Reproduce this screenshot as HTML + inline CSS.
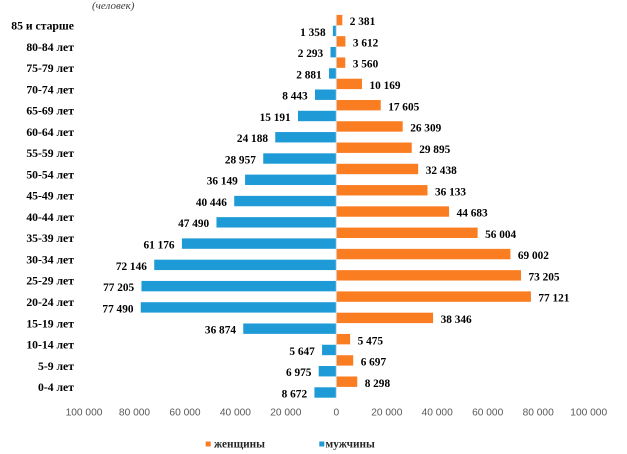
<!DOCTYPE html>
<html><head><meta charset="utf-8"><style>
html,body{margin:0;padding:0;background:#fff;}
svg{display:block;}
.c{font-family:"Liberation Serif","Noto Serif CJK SC",serif;font-weight:bold;font-size:11.7px;fill:#000;}
.v{font-family:"Liberation Serif","Noto Serif CJK SC",serif;font-weight:bold;font-size:11.3px;fill:#000;}
.t{font-family:"Liberation Sans","Noto Sans CJK SC",sans-serif;font-size:10.2px;fill:#595959;}
.l{font-family:"Liberation Serif","Noto Serif CJK SC",serif;font-weight:bold;font-size:11.3px;fill:#262626;}
.u{font-family:"Liberation Serif","Noto Serif CJK SC",serif;font-style:italic;font-size:11px;fill:#404040;}
</style></head><body>
<svg width="627" height="454" viewBox="0 0 627 454" xmlns="http://www.w3.org/2000/svg">
<text class="u" x="92" y="9">(человек)</text>

<g fill="#FA7D22">
<rect x="336.3" y="14.9" width="6.01" height="10.4"/>
<rect x="336.3" y="36.17" width="9.11" height="10.4"/>
<rect x="336.3" y="57.44" width="8.98" height="10.4"/>
<rect x="336.3" y="78.71" width="25.66" height="10.4"/>
<rect x="336.3" y="99.98" width="44.43" height="10.4"/>
<rect x="336.3" y="121.25" width="66.39" height="10.4"/>
<rect x="336.3" y="142.52" width="75.44" height="10.4"/>
<rect x="336.3" y="163.79" width="81.86" height="10.4"/>
<rect x="336.3" y="185.06" width="91.18" height="10.4"/>
<rect x="336.3" y="206.33" width="112.76" height="10.4"/>
<rect x="336.3" y="227.6" width="141.33" height="10.4"/>
<rect x="336.3" y="248.87" width="174.13" height="10.4"/>
<rect x="336.3" y="270.14" width="184.73" height="10.4"/>
<rect x="336.3" y="291.41" width="194.62" height="10.4"/>
<rect x="336.3" y="312.68" width="96.77" height="10.4"/>
<rect x="336.3" y="333.95" width="13.82" height="10.4"/>
<rect x="336.3" y="355.22" width="16.9" height="10.4"/>
<rect x="336.3" y="376.49" width="20.94" height="10.4"/>
</g>

<g fill="#1E9AD6">
<rect x="332.87" y="25.7" width="3.43" height="10.4"/>
<rect x="330.51" y="46.97" width="5.79" height="10.4"/>
<rect x="329.03" y="68.24" width="7.27" height="10.4"/>
<rect x="314.99" y="89.51" width="21.31" height="10.4"/>
<rect x="297.97" y="110.78" width="38.33" height="10.4"/>
<rect x="275.26" y="132.05" width="61.04" height="10.4"/>
<rect x="263.23" y="153.32" width="73.07" height="10.4"/>
<rect x="245.08" y="174.59" width="91.22" height="10.4"/>
<rect x="234.23" y="195.86" width="102.07" height="10.4"/>
<rect x="216.46" y="217.13" width="119.84" height="10.4"/>
<rect x="181.92" y="238.4" width="154.38" height="10.4"/>
<rect x="154.24" y="259.67" width="182.06" height="10.4"/>
<rect x="141.47" y="280.94" width="194.83" height="10.4"/>
<rect x="140.75" y="302.21" width="195.55" height="10.4"/>
<rect x="243.25" y="323.48" width="93.05" height="10.4"/>
<rect x="322.05" y="344.75" width="14.25" height="10.4"/>
<rect x="318.7" y="366.02" width="17.6" height="10.4"/>
<rect x="314.42" y="387.29" width="21.88" height="10.4"/>
</g>

<line x1="336.3" y1="14.9" x2="336.3" y2="397.8" stroke="#d9d9d9" stroke-width="1"/>

<g class="c" text-anchor="end">
<text x="74" y="29.5">85 и старше</text>
<text x="74" y="50.77">80-84 лет</text>
<text x="74" y="72.04">75-79 лет</text>
<text x="74" y="93.31">70-74 лет</text>
<text x="74" y="114.58">65-69 лет</text>
<text x="74" y="135.85">60-64 лет</text>
<text x="74" y="157.12">55-59 лет</text>
<text x="74" y="178.39">50-54 лет</text>
<text x="74" y="199.66">45-49 лет</text>
<text x="74" y="220.93">40-44 лет</text>
<text x="74" y="242.2">35-39 лет</text>
<text x="74" y="263.47">30-34 лет</text>
<text x="74" y="284.74">25-29 лет</text>
<text x="74" y="306.01">20-24 лет</text>
<text x="74" y="327.28">15-19 лет</text>
<text x="74" y="348.55">10-14 лет</text>
<text x="74" y="369.82">5-9 лет</text>
<text x="74" y="391.09">0-4 лет</text>
</g>

<g class="v">
<text x="349.8" y="25.2">2 381</text>
<text x="352.9" y="46.47">3 612</text>
<text x="352.8" y="67.74">3 560</text>
<text x="369.5" y="89.01">10 169</text>
<text x="388.2" y="110.28">17 605</text>
<text x="410.2" y="131.55">26 309</text>
<text x="419.2" y="152.82">29 895</text>
<text x="425.7" y="174.09">32 438</text>
<text x="435" y="195.36">36 133</text>
<text x="456.6" y="216.63">44 683</text>
<text x="485.1" y="237.9">56 004</text>
<text x="517.9" y="259.17">69 002</text>
<text x="528.5" y="280.44">73 205</text>
<text x="538.4" y="301.71">77 121</text>
<text x="440.6" y="322.98">38 346</text>
<text x="357.6" y="344.25">5 475</text>
<text x="360.7" y="365.52">6 697</text>
<text x="364.7" y="386.79">8 298</text>
</g>

<g class="v" text-anchor="end">
<text x="325.6" y="35.8">1 358</text>
<text x="323.2" y="57.07">2 293</text>
<text x="321.7" y="78.34">2 881</text>
<text x="307.7" y="99.61">8 443</text>
<text x="290.7" y="120.88">15 191</text>
<text x="268" y="142.15">24 188</text>
<text x="255.9" y="163.42">28 957</text>
<text x="237.8" y="184.69">36 149</text>
<text x="226.9" y="205.96">40 446</text>
<text x="209.2" y="227.23">47 490</text>
<text x="174.6" y="248.5">61 176</text>
<text x="146.9" y="269.77">72 146</text>
<text x="134.2" y="291.04">77 205</text>
<text x="133.5" y="312.31">77 490</text>
<text x="236" y="333.58">36 874</text>
<text x="314.8" y="354.85">5 647</text>
<text x="311.4" y="376.12">6 975</text>
<text x="307.1" y="397.39">8 672</text>
</g>

<g class="t" text-anchor="middle">
<text x="84" y="415.3">100 000</text>
<text x="134.5" y="415.3">80 000</text>
<text x="185" y="415.3">60 000</text>
<text x="235.4" y="415.3">40 000</text>
<text x="285.8" y="415.3">20 000</text>
<text x="336.3" y="415.3">0</text>
<text x="386.8" y="415.3">20 000</text>
<text x="437.2" y="415.3">40 000</text>
<text x="487.7" y="415.3">60 000</text>
<text x="538.2" y="415.3">80 000</text>
<text x="588.7" y="415.3">100 000</text>
</g>

<rect x="205.7" y="441.5" width="5" height="5" fill="#FA7D22"/>
<text class="l" x="214" y="447.5">женщины</text>
<rect x="319.3" y="441.5" width="5" height="5" fill="#1E9AD6"/>
<text class="l" x="325.5" y="447.5">мужчины</text>
</svg>
</body></html>
